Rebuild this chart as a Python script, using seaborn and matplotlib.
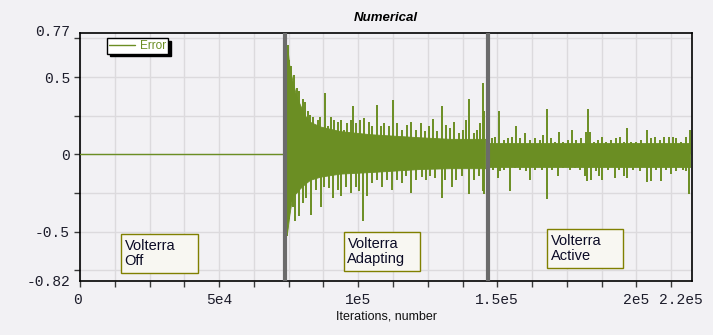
import matplotlib
matplotlib.use("Agg")
import matplotlib.pyplot as plt
import seaborn as sns
import pandas as pd
from matplotlib.patches import Rectangle
from matplotlib.ticker import FixedLocator, MultipleLocator
from matplotlib.transforms import ScaledTranslation

# Stage boundaries of the Volterra filter (iterations)
stage_bounds = [73600, 146500]
stage_labels = ["Volterra\nOff", "Volterra\nAdapting", "Volterra\nActive"]

# Error while the filter is off
off_iter = [0, 73600]
off_error = [0.0, 0.0]

# Dense core of the error while the filter adapts
adapt_iter = [73700, 74500, 75200, 76300, 77700, 79100, 80900, 82700, 86300,
              93500, 104300, 122300, 133100, 145700]
adapt_upper = [0.72, 0.70, 0.58, 0.48, 0.38, 0.32, 0.25, 0.21, 0.18,
               0.15, 0.13, 0.11, 0.10, 0.10]
adapt_lower = [-0.50, -0.50, -0.40, -0.27, -0.25, -0.22, -0.19, -0.165, -0.145,
               -0.125, -0.115, -0.095, -0.09, -0.09]

# Dense core of the error once the filter is active
active_iter = [147100, 165500, 187000, 219400]
active_upper = [0.075, 0.075, 0.075, 0.075]
active_lower = [-0.085, -0.085, -0.085, -0.085]

# Individual error peaks and troughs
peak_iter = [74600, 75200, 76000, 77000, 77900, 78800, 80000, 80800, 81800, 82700,
             83600, 85400, 86300, 88000, 89000, 90200, 91400, 92600, 93800, 95000,
             96100, 97400, 98200, 99200, 100700, 102200, 104000, 105100, 106600, 108200,
             109400, 111100, 112500, 114100, 115900, 117700, 119000, 120800, 122500, 124100,
             125300, 126900, 128300, 130000, 131700, 133100, 134600, 136100, 137700, 138700,
             140000, 141500, 142700, 143900, 144700, 145300,
             148100, 149300, 150500, 152300, 153700, 155300, 156700, 158300, 160100, 161900,
             163700, 165200, 166400, 167700, 169300, 170900, 172100, 173600, 175400, 176900,
             178400, 180000, 181800, 182500, 183200, 184600, 186200, 187700, 189200, 191000,
             192600, 194000, 195600, 196800, 198200, 200000, 201800, 203900, 205400, 206800,
             208400, 209800, 211600, 213200, 214400, 216200, 217700, 219200]
peak = [0.71, 0.61, 0.57, 0.51, 0.43, 0.41, 0.36, 0.34, 0.28, 0.255,
        0.24, 0.22, 0.24, 0.395, 0.18, 0.24, 0.22, 0.21, 0.22, 0.16,
        0.20, 0.22, 0.31, 0.20, 0.22, 0.235, 0.21, 0.18, 0.32, 0.18,
        0.20, 0.18, 0.35, 0.20, 0.16, 0.19, 0.21, 0.16, 0.20, 0.15,
        0.18, 0.23, 0.15, 0.31, 0.19, 0.17, 0.21, 0.14, 0.16, 0.22,
        0.36, 0.14, 0.16, 0.20, 0.46, 0.28,
        0.105, 0.115, 0.28, 0.094, 0.105, 0.115, 0.18, 0.105, 0.135, 0.094,
        0.105, 0.094, 0.125, 0.29, 0.105, 0.08, 0.145, 0.08, 0.094, 0.16,
        0.094, 0.105, 0.145, 0.29, 0.145, 0.08, 0.094, 0.115, 0.08, 0.094,
        0.105, 0.115, 0.08, 0.17, 0.08, 0.08, 0.094, 0.16, 0.105, 0.115,
        0.094, 0.115, 0.115, 0.115, 0.105, 0.08, 0.115, 0.16]
trough_iter = [74300, 75200, 76400, 77200, 78800, 80000, 81200, 83200, 84800, 86600,
               87800, 89600, 90800, 92600, 94000, 95600, 97400, 99200, 100400, 101900,
               103300, 105100, 106900, 108700, 110500, 112000, 114100, 115900, 117200, 119000,
               120800, 122800, 124500, 125900, 127700, 130000, 131300, 133700, 135200, 137300,
               140000, 141500, 143300, 144900, 145400,
               148400, 150100, 151100, 152500, 154700, 156500, 158300, 160400, 161900, 163700,
               166100, 167700, 169700, 171700, 173800, 176000, 177800, 179600, 181400, 182400,
               183600, 185400, 186400, 187700, 189800, 192200, 193800, 195600, 196800, 198800,
               201200, 203900, 205400, 207200, 208700, 210800, 212600, 214400, 216600, 218000,
               218800]
trough = [-0.53, -0.42, -0.34, -0.43, -0.40, -0.315, -0.28, -0.39, -0.23, -0.34,
          -0.21, -0.22, -0.28, -0.23, -0.27, -0.21, -0.25, -0.21, -0.24, -0.43,
          -0.27, -0.185, -0.165, -0.21, -0.165, -0.23, -0.165, -0.185, -0.14, -0.25,
          -0.165, -0.15, -0.165, -0.14, -0.155, -0.28, -0.165, -0.21, -0.165, -0.14,
          -0.26, -0.165, -0.14, -0.24, -0.26,
          -0.10, -0.155, -0.11, -0.10, -0.24, -0.09, -0.10, -0.11, -0.165, -0.10,
          -0.10, -0.29, -0.10, -0.14, -0.09, -0.10, -0.09, -0.10, -0.14, -0.175,
          -0.165, -0.11, -0.14, -0.165, -0.10, -0.155, -0.10, -0.14, -0.155, -0.10,
          -0.11, -0.18, -0.175, -0.10, -0.175, -0.10, -0.13, -0.11, -0.10, -0.11,
          -0.26]

# Axis ticks
x_ticks = [0, 50000, 100000, 150000, 200000, 220000]
x_tick_labels = ["0", "5e4", "1e5", "1.5e5", "2e5", "2.2e5"]
y_ticks = [-0.82, -0.5, 0, 0.5, 0.77]
y_tick_labels = ["-0.82", "-0.5", "0", "0.5", "0.77"]

bg = "#f2f1f4"
err_color = "#6b8e23"
sns.set_theme(style="ticks", rc={
    "figure.facecolor": bg,
    "axes.facecolor": bg,
    "axes.edgecolor": "black",
    "grid.color": "#dcdadd",
})
plt.rcParams["font.family"] = ["Liberation Sans", "DejaVu Sans"]

fig = plt.figure(figsize=(7.13, 3.35), dpi=100)
W, H = 713, 335
ax = fig.add_axes([80 / W, 1 - 281 / H, (692 - 80) / W, (281 - 33) / H])

ax.set_xlim(0, 220000)
ax.set_ylim(-0.82, 0.785)

# flat error while off (also the legend entry)
off_df = pd.DataFrame({"iter": off_iter, "error": off_error})
sns.lineplot(data=off_df, x="iter", y="error", ax=ax, color=err_color,
             linewidth=1.0, label="Error", zorder=3)

# dense error core plus individual peaks / troughs
for xs, up, lo in [(adapt_iter, adapt_upper, adapt_lower),
                   (active_iter, active_upper, active_lower)]:
    ax.fill_between(xs, lo, up, color=err_color, linewidth=0.6,
                    edgecolor=err_color, zorder=3)
ax.vlines(peak_iter, 0, peak, color=err_color, linewidth=1.4, zorder=3)
ax.vlines(trough_iter, 0, trough, color=err_color, linewidth=1.4, zorder=3)

# stage boundaries
for b in stage_bounds:
    ax.axvline(b, color="#6b6b6b", linewidth=3.0, zorder=4)

# grid and ticks
ax.xaxis.remove_overlapping_locs = False
ax.yaxis.remove_overlapping_locs = False
ax.xaxis.set_major_locator(FixedLocator(x_ticks))
ax.set_xticklabels(x_tick_labels)
ax.yaxis.set_major_locator(FixedLocator(y_ticks))
ax.set_yticklabels(y_tick_labels)
ax.xaxis.set_minor_locator(MultipleLocator(12500))
ax.yaxis.set_minor_locator(MultipleLocator(0.25))
ax.grid(False, which="major")
ax.grid(True, which="minor", linewidth=1.0)
ax.set_axisbelow(True)
ax.tick_params(which="major", length=0, labelsize=10.5, labelcolor="#1c1c2a")
ax.tick_params(axis="x", which="major", pad=9)
ax.tick_params(axis="y", which="major", pad=7.2)
ax.tick_params(which="minor", length=4, width=1, color="#3a3a3a", direction="out")
for lab in ax.get_xticklabels() + ax.get_yticklabels():
    lab.set_fontfamily("Liberation Mono")
last = ax.get_xticklabels()[-1]
last.set_transform(last.get_transform() + ScaledTranslation(-11 / 100, 0, fig.dpi_scale_trans))
first = ax.get_xticklabels()[0]
first.set_transform(first.get_transform() + ScaledTranslation(-3 / 100, 0, fig.dpi_scale_trans))
top = ax.get_yticklabels()[-1]
top.set_transform(top.get_transform() + ScaledTranslation(0, 5 / 100, fig.dpi_scale_trans))

for s in ax.spines.values():
    s.set_visible(True)
    s.set_linewidth(1.2)
    s.set_color("black")

ax.set_title("Numerical", fontsize=9.5, fontweight="bold", fontstyle="italic",
             color="black", pad=8.8)
ax.set_xlabel("Iterations, number", fontsize=9, color="#111111", labelpad=2)
ax.set_ylabel("")

leg = ax.legend(loc="upper left", bbox_to_anchor=(0.044, 0.98), borderaxespad=0,
                fontsize=8.5, frameon=True, fancybox=False,
                shadow={"color": "black", "alpha": 1.0},
                handlelength=2.2, handletextpad=0.45, borderpad=0.15,
                labelcolor=err_color)
leg.get_frame().set_edgecolor("black")
leg.get_frame().set_facecolor("white")
leg.get_frame().set_alpha(1.0)
leg.get_frame().set_linewidth(1.0)

# stage annotation boxes (axes fractions: x0, x1, y0, y1)
boxes = [(0.067, 0.193, 0.032, 0.190),
         (0.431, 0.556, 0.040, 0.198),
         (0.763, 0.887, 0.052, 0.210)]
for (x0, x1, y0, y1), txt in zip(boxes, stage_labels):
    ax.add_patch(Rectangle((x0, y0), x1 - x0, y1 - y0, transform=ax.transAxes,
                           facecolor="#f8f7f2", edgecolor="#808000",
                           linewidth=1.0, zorder=5))
    ax.text(x0 + 0.006, (y0 + y1) / 2, txt, transform=ax.transAxes,
            ha="left", va="center", fontsize=10.5, color="#0b0b26",
            linespacing=1.1, zorder=6)

fig.savefig("out.png", dpi=100, facecolor=bg)
